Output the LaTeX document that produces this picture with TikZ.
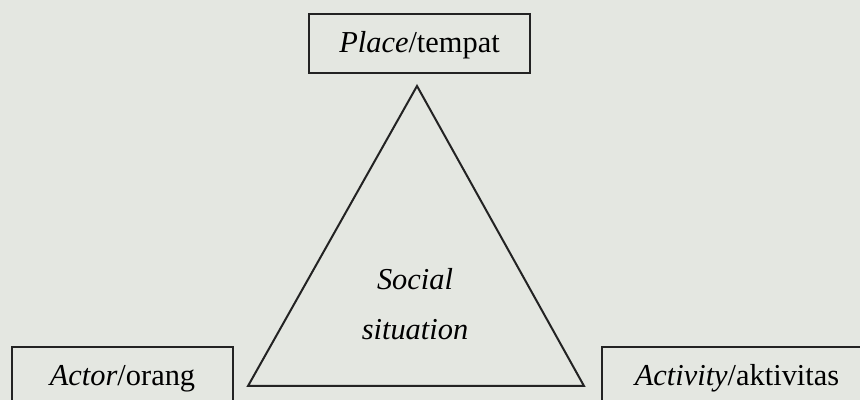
\documentclass[tikz,border=0pt]{standalone}
\usepackage{fontspec}
\setmainfont{Liberation Serif}
\definecolor{kertas}{RGB}{228,231,225}
\definecolor{garis}{RGB}{35,35,35}
\begin{document}
\begin{tikzpicture}[x=0.5pt,y=0.5pt,line width=1pt,
  kotak/.style={draw=garis,rectangle,inner sep=0pt,minimum height=29.5pt,
    text height=12pt,text depth=3pt,font=\fontsize{15.2}{18}\selectfont}]
  \fill[kertas] (0,0) rectangle (860,400);
  \useasboundingbox (0,0) rectangle (860,400);
  \node[kotak,minimum width=110.5pt] (tempat) at (419.5,356.5) {\textit{Place}/tempat};
  \node[kotak,minimum width=110.5pt] (orang) at (122.5,23.5) {\textit{Actor}/orang};
  \node[kotak,minimum width=135pt] (aktivitas) at (737,23) {\textit{Activity}/aktivitas};
  % segitiga situasi sosial
  \coordinate (puncak) at (417,314);
  \coordinate (kiri) at (248,14);
  \coordinate (kanan) at (584,14);
  \draw[garis,line join=miter] (puncak) -- (kiri) -- (kanan) -- cycle;
  \node[align=center,font=\itshape\fontsize{15.2}{25}\selectfont] (situasi) at (415,96) {Social\\situation};
\end{tikzpicture}
\end{document}
